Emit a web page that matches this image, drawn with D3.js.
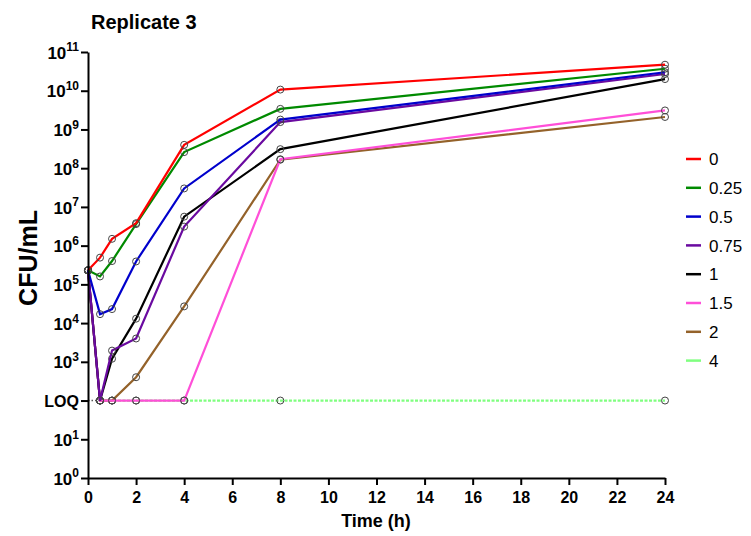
<!DOCTYPE html>
<html>
<head>
<meta charset="utf-8">
<script src="https://cdn.jsdelivr.net/npm/d3@7"></script>
<style>
  body { margin: 0; background: #fff; }
  text { font-family: "Liberation Sans", Arial, sans-serif; }
</style>
</head>
<body>
<div class="chart"></div>
<script>
var times = [0, 0.5, 1, 2, 4, 8, 24];
var seriesNames = ["0", "0.25", "0.5", "0.75", "1", "1.5", "2", "4"];
var seriesColors = ["#ff0000", "#008a00", "#0000cc", "#6a0aa0", "#000000", "#ff4fd8", "#94622a", "#80ff80"];
var LOQ = 100;
// CFU/mL for each series, one value per time point
var conc0    = [2.3e5, 4.9e5, 1.5e6, 3.8e6, 4.0e8, 1.07e10, 4.7e10];
var conc025  = [2.3e5, 1.6e5, 4.0e5, 3.6e6, 2.6e8, 3.4e9, 3.7e10];
var conc05   = [2.3e5, 1.7e4, 2.3e4, 3.9e5, 3.0e7, 1.8e9, 3.0e10];
var conc075  = [2.3e5, LOQ, 1.95e3, 4.0e3, 3.1e6, 1.55e9, 2.7e10];
var conc1    = [2.3e5, LOQ, 1.2e3, 1.3e4, 5.6e6, 3.1e8, 2.0e10];
var conc15   = [2.3e5, LOQ, LOQ, LOQ, LOQ, 1.7e8, 3.1e9];
var conc2    = [2.3e5, LOQ, LOQ, 4.0e2, 2.7e4, 1.65e8, 2.1e9];
var conc4    = [2.3e5, LOQ, LOQ, LOQ, LOQ, LOQ, LOQ];
var allSeries = [conc0, conc025, conc05, conc075, conc1, conc15, conc2, conc4];
var yTickValues = [1, 10, 100, 1e3, 1e4, 1e5, 1e6, 1e7, 1e8, 1e9, 1e10, 1e11];
var yTickExps = ["0", "1", "LOQ", "3", "4", "5", "6", "7", "8", "9", "10", "11"];
var xTickValues = [0, 2, 4, 6, 8, 10, 12, 14, 16, 18, 20, 22, 24];

var svgWidth = 751, svgHeight = 536;
var svg = d3.select(".chart").append("svg")
  .attr("width", svgWidth).attr("height", svgHeight);

var x = d3.scaleLinear().domain([0, 24]).range([88, 665]);
var y = d3.scaleLog().domain([1, 1e11]).range([478, 52]);

// title
svg.append("text").attr("x", 91).attr("y", 29)
  .attr("font-size", 20).attr("font-weight", "bold").text("Replicate 3");

// LOQ dotted stub near axis
svg.append("line")
  .attr("x1", x(0)).attr("x2", x(0.5)).attr("y1", y(LOQ)).attr("y2", y(LOQ))
  .attr("stroke", "#555").attr("stroke-width", 1.5).attr("stroke-dasharray", "1.5,2");

var line = d3.line().x(function(d, i) { return x(times[i]); }).y(function(d) { return y(d); });

// draw series back to front so "0" ends on top
for (var s = allSeries.length - 1; s >= 0; s--) {
  var data = allSeries[s];
  var g = svg.append("g");
  if (s === 7) {
    g.append("path").datum(data.slice(1))
      .attr("d", d3.line().x(function(d, i) { return x(times[i + 1]); }).y(function(d) { return y(d); }))
      .attr("fill", "none").attr("stroke", seriesColors[s]).attr("stroke-width", 2.2)
      .attr("stroke-dasharray", "3,1.5");
  } else {
    g.append("path").datum(data).attr("d", line)
      .attr("fill", "none").attr("stroke", seriesColors[s]).attr("stroke-width", 2.2);
  }
  g.selectAll("circle").data(data).enter().append("circle")
    .attr("cx", function(d, i) { return x(times[i]); })
    .attr("cy", function(d) { return y(d); })
    .attr("r", 3.5)
    .attr("fill", "none").attr("stroke", "#444").attr("stroke-width", 1);
}

// axes
var xAxis = svg.append("g").attr("transform", "translate(0,478)")
  .call(d3.axisBottom(x).tickValues(xTickValues).tickSize(7).tickPadding(7).tickSizeOuter(0));
xAxis.select(".domain").attr("stroke-width", 2);
xAxis.selectAll(".tick line").attr("stroke-width", 2);
xAxis.selectAll("text").attr("font-size", 16).attr("font-weight", "bold")
  .attr("font-family", "Liberation Sans, Arial, sans-serif").attr("fill", "#000");

var yAxis = svg.append("g").attr("transform", "translate(88,0)")
  .call(d3.axisLeft(y).tickValues(yTickValues).tickSize(7).tickSizeOuter(0).tickFormat(""));
yAxis.select(".domain").attr("stroke-width", 2);
yAxis.selectAll(".tick line").attr("stroke-width", 2);
yAxis.selectAll(".tick").each(function(d, i) {
  var t = d3.select(this).append("text")
    .attr("x", -9).attr("dy", "0.36em").attr("text-anchor", "end")
    .attr("fill", "#000").attr("font-weight", "bold")
    .attr("font-family", "Liberation Sans, Arial, sans-serif");
  if (yTickExps[i] === "LOQ") {
    t.attr("font-size", 16).text("LOQ");
  } else {
    t.attr("font-size", 17).text("10");
    t.append("tspan").attr("font-size", 12).attr("dy", "-0.6em").text(yTickExps[i]);
  }
});

// axis titles
svg.append("text").attr("transform", "translate(37,258) rotate(-90)")
  .attr("text-anchor", "middle").attr("font-size", 25).attr("font-weight", "bold").text("CFU/mL");
svg.append("text").attr("x", 376).attr("y", 527)
  .attr("text-anchor", "middle").attr("font-size", 18).attr("font-weight", "bold").text("Time (h)");

// legend
var legend = svg.append("g").selectAll("g").data(seriesNames).enter().append("g")
  .attr("transform", function(d, i) { return "translate(686," + (159 + i * 28.8) + ")"; });
legend.append("line").attr("x1", 0).attr("x2", 15).attr("y1", 0).attr("y2", 0)
  .attr("stroke", function(d, i) { return seriesColors[i]; }).attr("stroke-width", 2.5);
legend.append("text").attr("x", 23).attr("dy", "0.36em").attr("font-size", 17)
  .text(function(d) { return d; });
</script>
</body>
</html>
